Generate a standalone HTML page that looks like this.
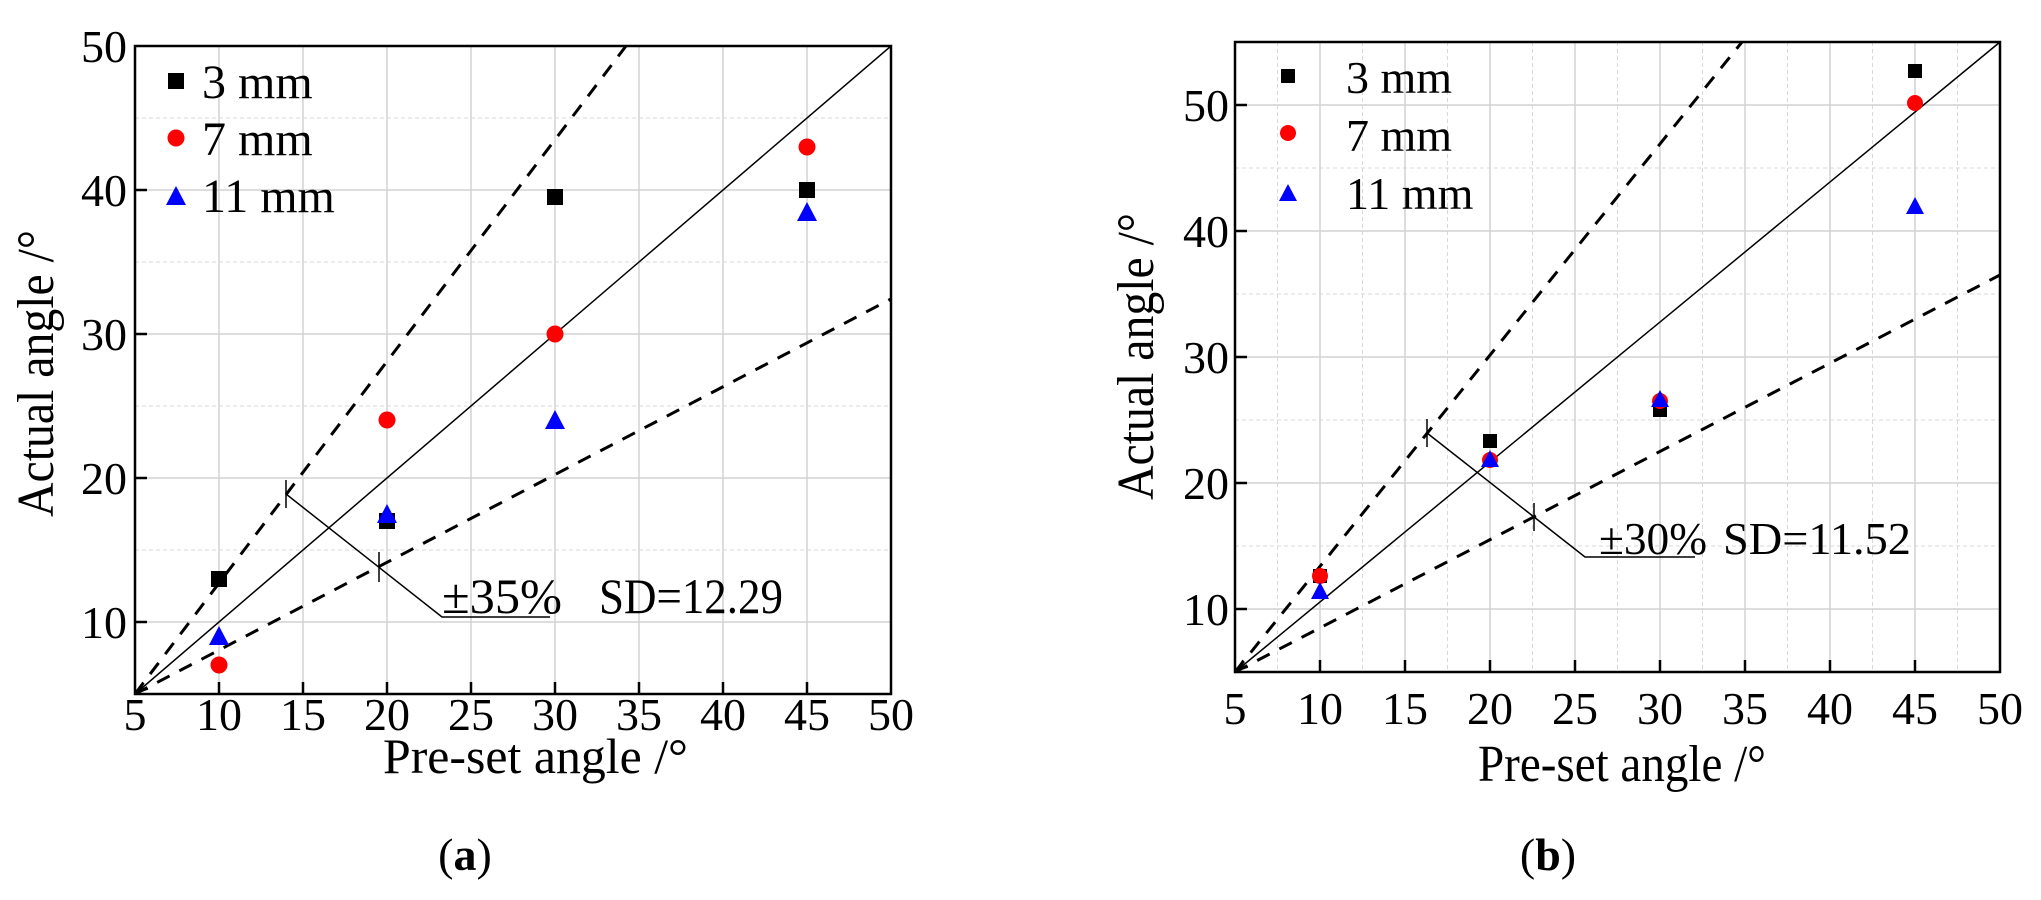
<!DOCTYPE html>
<html><head><meta charset="utf-8"><style>
html,body{margin:0;padding:0;background:#fff;}
svg{display:block;font-family:"Liberation Serif","Times New Roman",serif;}
</style></head><body>
<svg width="2041" height="900" viewBox="0 0 2041 900" xmlns="http://www.w3.org/2000/svg">
<rect width="2041" height="900" fill="#fff"/>
<!-- ============ Chart A ============ -->
<g stroke="#d2d2d2" stroke-width="1.5">
 <line x1="219" y1="46" x2="219" y2="694"/><line x1="303" y1="46" x2="303" y2="694"/>
 <line x1="387" y1="46" x2="387" y2="694"/><line x1="471" y1="46" x2="471" y2="694"/>
 <line x1="555" y1="46" x2="555" y2="694"/><line x1="639" y1="46" x2="639" y2="694"/>
 <line x1="723" y1="46" x2="723" y2="694"/><line x1="807" y1="46" x2="807" y2="694"/>
 <line x1="135" y1="622" x2="891" y2="622"/><line x1="135" y1="478" x2="891" y2="478"/>
 <line x1="135" y1="334" x2="891" y2="334"/><line x1="135" y1="190" x2="891" y2="190"/>
</g>
<g stroke="#d8d8d8" stroke-width="1" stroke-dasharray="4 3">
 <line x1="135" y1="550" x2="891" y2="550"/><line x1="135" y1="406" x2="891" y2="406"/>
 <line x1="135" y1="262" x2="891" y2="262"/><line x1="135" y1="118" x2="891" y2="118"/>
</g>
<line x1="135" y1="694" x2="891" y2="46" stroke="#000" stroke-width="1.5"/>
<g stroke="#000" stroke-width="3" stroke-dasharray="14 11">
 <line x1="135" y1="694" x2="626" y2="46"/>
 <line x1="135" y1="694" x2="891" y2="299"/>
</g>
<polyline points="143,682 136,693 148,689" fill="none" stroke="#000" stroke-width="1.5"/>
<g stroke="#000" stroke-width="1.5" fill="none">
 <polyline points="286,494 442,617 550,617"/>
 <line x1="286" y1="480" x2="286" y2="508"/>
 <line x1="379" y1="552" x2="379" y2="582"/>
</g>
<text x="442" y="613" font-size="50" textLength="120" lengthAdjust="spacingAndGlyphs">±35%</text>
<text x="599" y="613" font-size="50" textLength="184" lengthAdjust="spacingAndGlyphs">SD=12.29</text>
<g fill="#000">
 <rect x="211" y="571" width="16" height="16"/><rect x="379" y="513" width="16" height="16"/>
 <rect x="547" y="189" width="16" height="16"/><rect x="799" y="182" width="16" height="16"/>
</g>
<g fill="#f00">
 <circle cx="219" cy="665" r="8.5"/><circle cx="387" cy="420" r="8.5"/>
 <circle cx="555" cy="334" r="8.5"/><circle cx="807" cy="147" r="8.5"/>
</g>
<g fill="#00f">
 <polygon points="219,626 209,645 229,645"/><polygon points="387,504 377,523 397,523"/>
 <polygon points="555,410 545,429 565,429"/><polygon points="807,202 797,221 817,221"/>
</g>
<rect x="168" y="73" width="16" height="16" fill="#000"/>
<circle cx="176" cy="138" r="8.5" fill="#f00"/>
<polygon points="176,186 166,205 186,205" fill="#00f"/>
<g font-size="48">
 <text x="202" y="98">3 mm</text><text x="202" y="155">7 mm</text><text x="202" y="212">11 mm</text>
</g>
<rect x="135" y="46" width="756" height="648" fill="none" stroke="#000" stroke-width="2.5"/>
<g stroke="#000" stroke-width="2.5">
 <line x1="219" y1="694" x2="219" y2="682"/><line x1="303" y1="694" x2="303" y2="682"/>
 <line x1="387" y1="694" x2="387" y2="682"/><line x1="471" y1="694" x2="471" y2="682"/>
 <line x1="555" y1="694" x2="555" y2="682"/><line x1="639" y1="694" x2="639" y2="682"/>
 <line x1="723" y1="694" x2="723" y2="682"/><line x1="807" y1="694" x2="807" y2="682"/>
 <line x1="135" y1="622" x2="147" y2="622"/><line x1="135" y1="478" x2="147" y2="478"/>
 <line x1="135" y1="334" x2="147" y2="334"/><line x1="135" y1="190" x2="147" y2="190"/>
</g>
<g font-size="46" text-anchor="middle">
 <text x="135" y="730">5</text><text x="219" y="730">10</text><text x="303" y="730">15</text>
 <text x="387" y="730">20</text><text x="471" y="730">25</text><text x="555" y="730">30</text>
 <text x="639" y="730">35</text><text x="723" y="730">40</text><text x="807" y="730">45</text>
 <text x="891" y="730">50</text>
</g>
<g font-size="46" text-anchor="end">
 <text x="127" y="638">10</text><text x="127" y="494">20</text><text x="127" y="350">30</text>
 <text x="127" y="206">40</text><text x="127" y="62">50</text>
</g>
<text x="383" y="773" font-size="50" textLength="305" lengthAdjust="spacingAndGlyphs">Pre-set angle /°</text>
<text transform="translate(53,517) rotate(-90)" font-size="52" textLength="287" lengthAdjust="spacingAndGlyphs">Actual angle /°</text>
<text x="465" y="870" font-size="46" text-anchor="middle">(<tspan font-weight="bold">a</tspan>)</text>

<!-- ============ Chart B ============ -->
<g stroke="#d8d8d8" stroke-width="1" stroke-dasharray="4 3">
 <line x1="1277.5" y1="42" x2="1277.5" y2="672"/><line x1="1362.5" y1="42" x2="1362.5" y2="672"/>
 <line x1="1447.5" y1="42" x2="1447.5" y2="672"/><line x1="1532.5" y1="42" x2="1532.5" y2="672"/>
 <line x1="1617.5" y1="42" x2="1617.5" y2="672"/><line x1="1702.5" y1="42" x2="1702.5" y2="672"/>
 <line x1="1787.5" y1="42" x2="1787.5" y2="672"/><line x1="1872.5" y1="42" x2="1872.5" y2="672"/>
 <line x1="1957.5" y1="42" x2="1957.5" y2="672"/>
 <line x1="1235" y1="546" x2="2000" y2="546"/><line x1="1235" y1="420" x2="2000" y2="420"/>
 <line x1="1235" y1="294" x2="2000" y2="294"/><line x1="1235" y1="168" x2="2000" y2="168"/>
</g>
<g stroke="#d2d2d2" stroke-width="1.5">
 <line x1="1320" y1="42" x2="1320" y2="672"/><line x1="1405" y1="42" x2="1405" y2="672"/>
 <line x1="1490" y1="42" x2="1490" y2="672"/><line x1="1575" y1="42" x2="1575" y2="672"/>
 <line x1="1660" y1="42" x2="1660" y2="672"/><line x1="1745" y1="42" x2="1745" y2="672"/>
 <line x1="1830" y1="42" x2="1830" y2="672"/><line x1="1915" y1="42" x2="1915" y2="672"/>
 <line x1="1235" y1="609" x2="2000" y2="609"/><line x1="1235" y1="483" x2="2000" y2="483"/>
 <line x1="1235" y1="357" x2="2000" y2="357"/><line x1="1235" y1="231" x2="2000" y2="231"/>
 <line x1="1235" y1="105" x2="2000" y2="105"/>
</g>
<line x1="1235" y1="672" x2="2000" y2="42" stroke="#000" stroke-width="1.5"/>
<g stroke="#000" stroke-width="3" stroke-dasharray="14 11">
 <line x1="1235" y1="672" x2="1742" y2="42"/>
 <line x1="1235" y1="672" x2="2000" y2="275"/>
</g>
<polyline points="1243,660 1236,671 1248,667" fill="none" stroke="#000" stroke-width="1.5"/>
<g stroke="#000" stroke-width="1.5" fill="none">
 <polyline points="1427,433 1585,557 1695,557"/>
 <line x1="1427" y1="419" x2="1427" y2="447"/>
 <line x1="1534" y1="503" x2="1534" y2="531"/>
</g>
<text x="1599" y="554" font-size="46" textLength="108" lengthAdjust="spacingAndGlyphs">±30%</text>
<text x="1723" y="554" font-size="46" textLength="188" lengthAdjust="spacingAndGlyphs">SD=11.52</text>
<g fill="#000">
 <rect x="1313" y="569" width="14" height="14"/><rect x="1483" y="434" width="14" height="14"/>
 <rect x="1653" y="403" width="14" height="14"/><rect x="1908" y="64" width="14" height="14"/>
</g>
<g fill="#f00">
 <circle cx="1320" cy="576" r="8"/><circle cx="1490" cy="460" r="8"/>
 <circle cx="1660" cy="401" r="8"/><circle cx="1915" cy="103" r="8"/>
</g>
<g fill="#00f">
 <polygon points="1320,582 1311,599 1329,599"/><polygon points="1490,450 1481,467 1499,467"/>
 <polygon points="1660,390 1651,407 1669,407"/><polygon points="1915,197 1906,214 1924,214"/>
</g>
<rect x="1281" y="69" width="14" height="14" fill="#000"/>
<circle cx="1288" cy="133" r="8" fill="#f00"/>
<polygon points="1288,184 1279,201 1297,201" fill="#00f"/>
<g font-size="46">
 <text x="1346" y="93">3 mm</text><text x="1346" y="151">7 mm</text><text x="1346" y="209">11 mm</text>
</g>
<rect x="1235" y="42" width="765" height="630" fill="none" stroke="#000" stroke-width="2.5"/>
<g stroke="#000" stroke-width="2.5">
 <line x1="1320" y1="672" x2="1320" y2="660"/><line x1="1405" y1="672" x2="1405" y2="660"/>
 <line x1="1490" y1="672" x2="1490" y2="660"/><line x1="1575" y1="672" x2="1575" y2="660"/>
 <line x1="1660" y1="672" x2="1660" y2="660"/><line x1="1745" y1="672" x2="1745" y2="660"/>
 <line x1="1830" y1="672" x2="1830" y2="660"/><line x1="1915" y1="672" x2="1915" y2="660"/>
 <line x1="1235" y1="609" x2="1247" y2="609"/><line x1="1235" y1="483" x2="1247" y2="483"/>
 <line x1="1235" y1="357" x2="1247" y2="357"/><line x1="1235" y1="231" x2="1247" y2="231"/>
 <line x1="1235" y1="105" x2="1247" y2="105"/>
</g>
<g font-size="46" text-anchor="middle">
 <text x="1235" y="724">5</text><text x="1320" y="724">10</text><text x="1405" y="724">15</text>
 <text x="1490" y="724">20</text><text x="1575" y="724">25</text><text x="1660" y="724">30</text>
 <text x="1745" y="724">35</text><text x="1830" y="724">40</text><text x="1915" y="724">45</text>
 <text x="2000" y="724">50</text>
</g>
<g font-size="46" text-anchor="end">
 <text x="1229" y="625">10</text><text x="1229" y="499">20</text><text x="1229" y="373">30</text>
 <text x="1229" y="247">40</text><text x="1229" y="121">50</text>
</g>
<text x="1478" y="781" font-size="52" textLength="288" lengthAdjust="spacingAndGlyphs">Pre-set angle /°</text>
<text transform="translate(1153,500) rotate(-90)" font-size="52" textLength="287" lengthAdjust="spacingAndGlyphs">Actual angle /°</text>
<text x="1548" y="870" font-size="46" text-anchor="middle">(<tspan font-weight="bold">b</tspan>)</text>
</svg>
</body></html>
